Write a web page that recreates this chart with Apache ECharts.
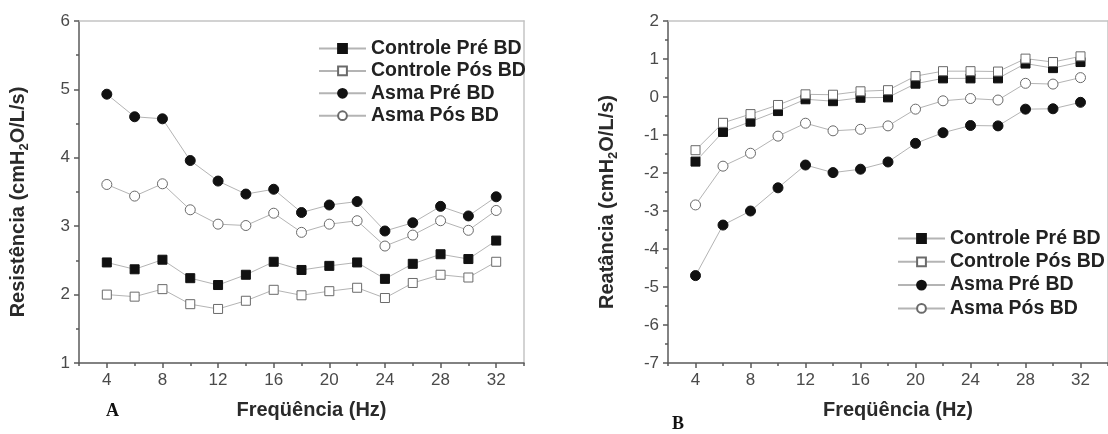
<!DOCTYPE html>
<html>
<head>
<meta charset="utf-8">
<script src="https://cdn.jsdelivr.net/npm/echarts@6/dist/echarts.min.js"></script>
<style>
html,body{margin:0;padding:0;background:#fff;}
#chart{width:1108px;height:434px;}
</style>
</head>
<body>
<div id="chart"></div>
<script>
// ---- Data ----
const frequencies = [4, 6, 8, 10, 12, 14, 16, 18, 20, 22, 24, 26, 28, 30, 32];
const seriesNames = ['Controle Pré BD', 'Controle Pós BD', 'Asma Pré BD', 'Asma Pós BD'];

// Panel A: Resistência
const resControlePre = [2.47, 2.37, 2.51, 2.24, 2.14, 2.29, 2.48, 2.36, 2.42, 2.47, 2.23, 2.45, 2.59, 2.52, 2.79];
const resControlePos = [2.00, 1.97, 2.08, 1.86, 1.79, 1.91, 2.07, 1.99, 2.05, 2.10, 1.95, 2.17, 2.29, 2.25, 2.48];
const resAsmaPre     = [4.93, 4.60, 4.57, 3.96, 3.66, 3.47, 3.54, 3.20, 3.31, 3.36, 2.93, 3.05, 3.29, 3.15, 3.43];
const resAsmaPos     = [3.61, 3.44, 3.62, 3.24, 3.03, 3.01, 3.19, 2.91, 3.03, 3.08, 2.71, 2.87, 3.08, 2.94, 3.23];

// Panel B: Reatância
const reaControlePre = [-1.70, -0.92, -0.65, -0.37, -0.06, -0.11, -0.02, -0.01, 0.35, 0.49, 0.49, 0.49, 0.88, 0.76, 0.92];
const reaControlePos = [-1.40, -0.68, -0.45, -0.21, 0.07, 0.06, 0.15, 0.18, 0.55, 0.68, 0.68, 0.67, 1.01, 0.92, 1.07];
const reaAsmaPre     = [-4.70, -3.37, -3.00, -2.39, -1.79, -1.99, -1.90, -1.71, -1.22, -0.94, -0.75, -0.76, -0.32, -0.31, -0.14];
const reaAsmaPos     = [-2.84, -1.82, -1.48, -1.03, -0.69, -0.89, -0.85, -0.76, -0.32, -0.10, -0.04, -0.08, 0.36, 0.34, 0.51];

// Tick labels
const xMajorTicks = [4, 8, 12, 16, 20, 24, 28, 32];
const xMinorTicks = [2, 6, 10, 14, 18, 22, 26, 30, 34];
const resTicks = [1, 2, 3, 4, 5, 6];
const reaTicks = [-7, -6, -5, -4, -3, -2, -1, 0, 1, 2];

// ---- Styles ----
const FONT = '"Liberation Sans", Arial, sans-serif';
const AXIS_COLOR = '#5a5a5a';
const FRAME_COLOR = '#c4c4c4';
const LINE_COLOR = '#b4b4b4';
const subRich = {
  s: { fontSize: 13, fontWeight: 'bold', fontFamily: FONT, color: '#2a2a2a', padding: [12, 0, 0, 0] }
};

function pairs(vals) { return frequencies.map((f, i) => [f, vals[i]]); }

const markerStyles = [
  { symbol: 'rect', symbolSize: 9, itemStyle: { color: '#111', borderColor: '#111', borderWidth: 1 } },
  { symbol: 'rect', symbolSize: 9, itemStyle: { color: '#fff', borderColor: '#6a6a6a', borderWidth: 1 } },
  { symbol: 'circle', symbolSize: 10, itemStyle: { color: '#111', borderColor: '#111', borderWidth: 1 } },
  { symbol: 'circle', symbolSize: 10, itemStyle: { color: '#fff', borderColor: '#6a6a6a', borderWidth: 1 } }
];

function makeSeries(valsList, xIdx, yIdx) {
  return valsList.map((vals, i) => Object.assign({
    name: seriesNames[i],
    type: 'line',
    xAxisIndex: xIdx,
    yAxisIndex: yIdx,
    data: pairs(vals),
    lineStyle: { color: LINE_COLOR, width: 1 },
    emphasis: { disabled: true },
    animation: false
  }, markerStyles[i]));
}

function xAxes(gridIndex, xName) {
  return [
    {
      gridIndex, type: 'value', position: 'bottom', min: 2, max: 34,
      name: xName, nameLocation: 'middle', nameGap: 37,
      nameTextStyle: { fontSize: 20, fontWeight: 'bold', fontFamily: FONT, color: '#2a2a2a', padding: [0, 0, 0, 20] },
      axisLine: { show: true, onZero: false, lineStyle: { color: AXIS_COLOR, width: 1.5 } },
      axisTick: { show: true, length: 5, customValues: xMajorTicks, lineStyle: { color: AXIS_COLOR, width: 1.5 } },
      axisLabel: { show: true, customValues: xMajorTicks, fontSize: 17, fontFamily: FONT, color: '#4a4a4a', margin: 9 },
      splitLine: { show: false }
    },
    {
      gridIndex, type: 'value', position: 'bottom', min: 2, max: 34,
      axisLine: { show: false, onZero: false },
      axisTick: { show: true, length: 3, customValues: xMinorTicks, lineStyle: { color: AXIS_COLOR, width: 1.5 } },
      axisLabel: { show: false },
      splitLine: { show: false }
    },
    {
      gridIndex, type: 'value', position: 'top', min: 2, max: 34,
      axisLine: { show: true, onZero: false, lineStyle: { color: FRAME_COLOR, width: 1.5 } },
      axisTick: { show: false }, axisLabel: { show: false }, splitLine: { show: false }
    }
  ];
}

function yAxes(gridIndex, min, max, yName) {
  return [
    {
      gridIndex, type: 'value', position: 'left', min, max, interval: 1,
      name: yName, nameLocation: 'middle', nameGap: 48,
      nameTextStyle: { fontSize: 20, fontWeight: 'bold', fontFamily: FONT, color: '#2a2a2a', padding: [0, 20, 0, 0], rich: subRich },
      axisLine: { show: true, onZero: false, lineStyle: { color: AXIS_COLOR, width: 1.5 } },
      axisTick: { show: true, length: 5, lineStyle: { color: AXIS_COLOR, width: 1.5 } },
      minorTick: { show: true, splitNumber: 2, length: 3, lineStyle: { color: AXIS_COLOR, width: 1.5 } },
      axisLabel: { fontSize: 17, fontFamily: FONT, color: '#4a4a4a', margin: 9 },
      splitLine: { show: false }
    },
    {
      gridIndex, type: 'value', position: 'right', min, max, interval: 1,
      axisLine: { show: true, onZero: false, lineStyle: { color: FRAME_COLOR, width: 1.5 } },
      axisTick: { show: false }, axisLabel: { show: false }, splitLine: { show: false }
    }
  ];
}

function legendAt(left, top, gap) {
  return {
    left, top, orient: 'vertical', padding: 0,
    itemWidth: 47, itemHeight: 11, itemGap: gap,
    selectedMode: false,
    textStyle: { fontSize: 19.5, fontWeight: 'bold', fontFamily: FONT, color: '#222', lineHeight: 19 },
    data: seriesNames
  };
}

const chart = echarts.init(document.getElementById('chart'), null, { renderer: 'canvas' });
chart.setOption({
  backgroundColor: '#ffffff',
  animation: false,
  grid: [
    { left: 79, right: 584, top: 21, bottom: 71 },
    { left: 668, right: -5, top: 21, bottom: 71 }
  ],
  legend: [legendAt(318, 38.5, 2.4), legendAt(897, 228.5, 3.3)],
  xAxis: [].concat(xAxes(0, 'Freqüência (Hz)'), xAxes(1, 'Freqüência (Hz)')),
  yAxis: [].concat(
    yAxes(0, resTicks[0], resTicks[resTicks.length - 1], 'Resistência (cmH{s|2}O/L/s)'),
    yAxes(1, reaTicks[0], reaTicks[reaTicks.length - 1], 'Reatância (cmH{s|2}O/L/s)')
  ),
  series: [].concat(
    makeSeries([resControlePre, resControlePos, resAsmaPre, resAsmaPos], 0, 0),
    makeSeries([reaControlePre, reaControlePos, reaAsmaPre, reaAsmaPos], 3, 2)
  ),
  graphic: [
    { type: 'text', left: 106, top: 402, style: { text: 'A', font: 'bold 18px "Liberation Serif", "DejaVu Serif", serif', fill: '#111' } },
    { type: 'text', left: 672, top: 415, style: { text: 'B', font: 'bold 18px "Liberation Serif", "DejaVu Serif", serif', fill: '#111' } }
  ]
});
</script>
</body>
</html>
